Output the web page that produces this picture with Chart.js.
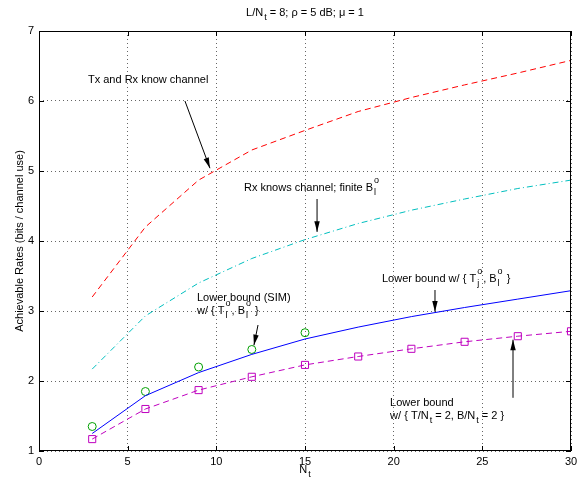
<!DOCTYPE html>
<html>
<head>
<meta charset="utf-8">
<script src="https://cdn.jsdelivr.net/npm/chart.js@4"></script>
<style>
  html, body { margin: 0; padding: 0; background: #fff; }
  #wrap { width: 577px; height: 482px; }
</style>
</head>
<body>
<div id="wrap"><canvas id="rates" width="577" height="482"></canvas></div>
<script>
// x positions (N_t)
const nt = [3, 6, 9, 12, 15, 18, 21, 24, 27, 30];
const ntSim = [3, 6, 9, 12, 15];

// series
const txRxKnow = [3.2, 4.2, 4.87, 5.3, 5.58, 5.85, 6.05, 6.23, 6.4, 6.58];
const rxKnows = [2.17, 2.93, 3.4, 3.75, 4.02, 4.25, 4.44, 4.6, 4.75, 4.87];
const lowerBound = [1.25, 1.79, 2.12, 2.38, 2.6, 2.77, 2.92, 3.05, 3.17, 3.29];
const lowerSim = [1.35, 1.85, 2.2, 2.45, 2.69];
const lowerFixed = [1.17, 1.6, 1.87, 2.06, 2.23, 2.35, 2.46, 2.56, 2.64, 2.71];

const xTicks = [0, 5, 10, 15, 20, 25, 30];
const yTicks = [1, 2, 3, 4, 5, 6, 7];

const FONT = '"Liberation Sans", Arial, Helvetica, sans-serif';

// annotation text pieces: [text, kind] kind = n | sub | sup | subsup (text is [sub, sup])
const notes = [
  { x: 2.76, y: 6.3, parts: [['Tx and Rx know channel', 'n']] },
  { x: 11.56, y: 4.76, parts: [['Rx knows channel; finite B', 'n'], [['l', 'o'], 'subsup']] },
  { x: 8.91, y: 3.19, parts: [['Lower bound (SIM)', 'n']] },
  { x: 8.91, y: 3.0, parts: [['w/ { T', 'n'], [['l', 'o'], 'subsup'], [', B', 'n'], [['l', 'o'], 'subsup'], [' }', 'n']] },
  { x: 19.34, y: 3.46, parts: [['Lower bound w/ { T', 'n'], [['j', 'o'], 'subsup'], [', B', 'n'], [['l', 'o'], 'subsup'], [' }', 'n']] },
  { x: 19.8, y: 1.69, parts: [['Lower bound', 'n']] },
  { x: 19.8, y: 1.5, parts: [['w/ { T/N', 'n'], ['t', 'sub'], [' = 2, B/N', 'n'], ['t', 'sub'], [' = 2 }', 'n']] }
];
const arrows = [
  { from: [8.23, 6.0], to: [9.64, 5.04] },
  { from: [15.68, 4.6], to: [15.68, 4.13] },
  { from: [12.35, 2.8], to: [12.12, 2.51] },
  { from: [22.33, 3.3], to: [22.33, 2.99] },
  { from: [26.73, 1.76], to: [26.73, 2.59] }
];

function drawRich(ctx, x, y, parts, size) {
  let cx = x;
  ctx.textBaseline = 'middle';
  ctx.textAlign = 'left';
  for (const [t, kind] of parts) {
    if (kind === 'n') {
      ctx.font = size + 'px ' + FONT;
      ctx.fillText(t, cx, y);
      cx += ctx.measureText(t).width;
    } else if (kind === 'sub') {
      ctx.font = (size - 2) + 'px ' + FONT;
      ctx.fillText(t, cx + 1, y + 5);
      cx += ctx.measureText(t).width + 1;
    } else if (kind === 'sup') {
      ctx.font = (size - 2) + 'px ' + FONT;
      ctx.fillText(t, cx + 1, y - 6);
      cx += ctx.measureText(t).width + 1;
    } else {
      ctx.font = (size - 2) + 'px ' + FONT;
      ctx.fillText(t[0], cx + 1, y + 5);
      ctx.fillText(t[1], cx + 1, y - 7);
      cx += Math.max(ctx.measureText(t[0]).width, ctx.measureText(t[1]).width) + 2;
    }
  }
  return cx - x;
}

function measure(ctx, parts, size) {
  ctx.save();
  ctx.fillStyle = 'rgba(0,0,0,0)';
  const w = drawRich(ctx, -1000, -1000, parts, size);
  ctx.restore();
  return w;
}

const decor = {
  id: 'decor',
  afterDraw(chart) {
    const ctx = chart.ctx;
    const a = chart.chartArea;
    const xs = chart.scales.x, ys = chart.scales.y;
    ctx.save();
    ctx.fillStyle = '#000';
    ctx.strokeStyle = '#000';

    // box
    ctx.lineWidth = 1;
    ctx.setLineDash([]);
    ctx.strokeRect(a.left + 0.5, a.top + 0.5, a.right - a.left - 1, a.bottom - a.top - 1);

    // inner ticks
    ctx.beginPath();
    for (const v of xTicks) {
      const px = Math.round(xs.getPixelForValue(v)) + 0.5;
      ctx.moveTo(px, a.bottom); ctx.lineTo(px, a.bottom - 5);
      ctx.moveTo(px, a.top); ctx.lineTo(px, a.top + 5);
    }
    for (const v of yTicks) {
      const py = Math.round(ys.getPixelForValue(v)) + 0.5;
      ctx.moveTo(a.left, py); ctx.lineTo(a.left + 5, py);
      ctx.moveTo(a.right, py); ctx.lineTo(a.right - 5, py);
    }
    ctx.stroke();

    // x tick labels
    ctx.font = '11px ' + FONT;
    ctx.textAlign = 'center';
    ctx.textBaseline = 'middle';
    for (const v of xTicks) {
      ctx.fillText(String(v), xs.getPixelForValue(v), a.bottom + 11);
    }

    // title
    const mid = (a.left + a.right) / 2;
    const titleParts = [['L/N', 'n'], ['t', 'sub'], [' = 8; \u03C1 = 5 dB; \u03BC = 1', 'n']];
    let w = measure(ctx, titleParts, 11);
    drawRich(ctx, mid - w / 2, 13, titleParts, 11);

    // x label
    const xl = [['N', 'n'], ['t', 'sub']];
    w = measure(ctx, xl, 11);
    drawRich(ctx, mid - w / 2, 470, xl, 11);

    // y label
    ctx.save();
    ctx.translate(20, (a.top + a.bottom) / 2);
    ctx.rotate(-Math.PI / 2);
    ctx.font = '11px ' + FONT;
    ctx.textAlign = 'center';
    ctx.textBaseline = 'middle';
    ctx.fillText('Achievable Rates (bits / channel use)', 0, 0);
    ctx.restore();

    // notes
    for (const n of notes) {
      drawRich(ctx, xs.getPixelForValue(n.x), ys.getPixelForValue(n.y), n.parts, 11);
    }

    // arrows
    for (const ar of arrows) {
      const x1 = xs.getPixelForValue(ar.from[0]), y1 = ys.getPixelForValue(ar.from[1]);
      const x2 = xs.getPixelForValue(ar.to[0]), y2 = ys.getPixelForValue(ar.to[1]);
      const ang = Math.atan2(y2 - y1, x2 - x1);
      ctx.lineWidth = 1;
      ctx.beginPath();
      ctx.moveTo(x1, y1);
      ctx.lineTo(x2, y2);
      ctx.stroke();
      ctx.beginPath();
      ctx.moveTo(x2, y2);
      ctx.lineTo(x2 - 11 * Math.cos(ang - 0.25), y2 - 11 * Math.sin(ang - 0.25));
      ctx.lineTo(x2 - 11 * Math.cos(ang + 0.25), y2 - 11 * Math.sin(ang + 0.25));
      ctx.closePath();
      ctx.fill();
    }
    ctx.restore();
  }
};

const pts = (xs, ys) => xs.map((x, i) => ({ x: x, y: ys[i] }));

new Chart(document.getElementById('rates'), {
  type: 'line',
  data: {
    datasets: [
      {
        label: 'Tx and Rx know channel',
        data: pts(nt, txRxKnow),
        borderColor: '#ff0000',
        borderWidth: 1,
        borderDash: [6, 4],
        pointRadius: 0,
        tension: 0
      },
      {
        label: 'Rx knows channel; finite B',
        data: pts(nt, rxKnows),
        borderColor: '#00bfbf',
        borderWidth: 1,
        borderDash: [6, 3, 1, 3],
        pointRadius: 0,
        tension: 0
      },
      {
        label: 'Lower bound',
        data: pts(nt, lowerBound),
        borderColor: '#0000ff',
        borderWidth: 1,
        pointRadius: 0,
        tension: 0
      },
      {
        label: 'Lower bound (SIM)',
        data: pts(ntSim, lowerSim),
        showLine: false,
        pointStyle: 'circle',
        pointRadius: 4,
        pointBorderWidth: 1,
        pointBorderColor: '#00a000',
        pointBackgroundColor: 'rgba(0,0,0,0)'
      },
      {
        label: 'Lower bound fixed',
        data: pts(nt, lowerFixed),
        borderColor: '#bf00bf',
        borderWidth: 1,
        borderDash: [6, 4],
        pointStyle: 'rect',
        pointRadius: 5,
        pointBorderWidth: 1,
        pointBorderColor: '#bf00bf',
        pointBackgroundColor: 'rgba(0,0,0,0)',
        tension: 0
      }
    ]
  },
  options: {
    responsive: false,
    animation: false,
    layout: { padding: { top: 31, right: 6, left: 0, bottom: 0 } },
    plugins: { legend: { display: false }, tooltip: { enabled: false } },
    scales: {
      x: {
        type: 'linear',
        min: 0,
        max: 30,
        afterFit: s => { s.height = 31; },
        afterBuildTicks: s => { s.ticks = xTicks.map(v => ({ value: v })); },
        ticks: { display: false },
        grid: { color: '#666', lineWidth: 1, drawTicks: false },
        border: { display: false, dash: [1, 3] }
      },
      y: {
        min: 1,
        max: 7,
        afterFit: s => { s.width = 39; },
        afterBuildTicks: s => { s.ticks = yTicks.map(v => ({ value: v })); },
        ticks: { color: '#000', font: { family: FONT, size: 11 }, padding: 5 },
        grid: { color: '#666', lineWidth: 1, drawTicks: false },
        border: { display: false, dash: [1, 3] }
      }
    }
  },
  plugins: [decor]
});
</script>
</body>
</html>
